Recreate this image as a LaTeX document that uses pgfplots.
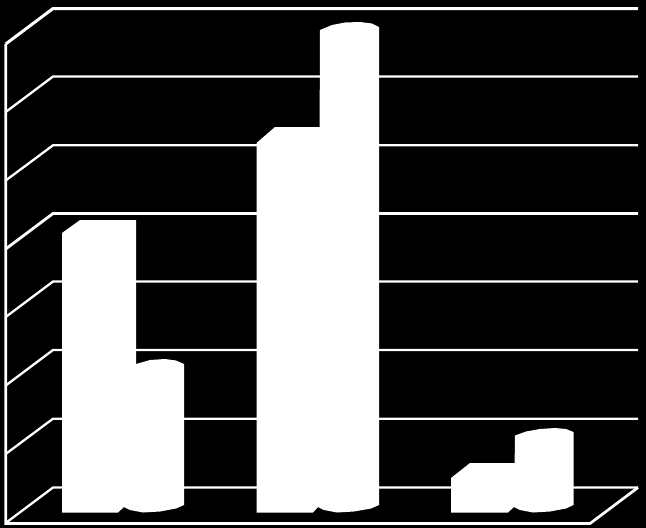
\documentclass[border=0pt]{standalone}
\usepackage{pgfplots}
\pgfplotsset{compat=1.18}
\pgfplotsset{
  wall/.style={white,line width=2.3pt,no markers,line join=miter},
  solid bar/.style={fill=white,draw=none,no markers},
}
\begin{document}
\begin{tikzpicture}
\begin{axis}[
  scale only axis,
  width=646pt,height=528pt,
  xmin=0,xmax=646,ymin=0,ymax=528,
  y dir=reverse,
  ticks=none,
  axis line style={draw=none},
  axis background/.style={fill=black},
]
% gridlines (back wall and side wall)
\addplot[wall,line width=3pt] coordinates {(5.7,44) (53,8.5) (638,8.5)};
\addplot[wall] coordinates {(5.7,112) (53,76.5) (638,76.5)};
\addplot[wall] coordinates {(5.7,180.5) (53,145.3) (638,145.3)};
\addplot[wall,line width=2.8pt] coordinates {(5.7,249) (53,213.5) (638,213.5)};
\addplot[wall] coordinates {(5.7,317) (53,281.5) (638,281.5)};
\addplot[wall] coordinates {(5.7,385.5) (53,350) (638,350)};
\addplot[wall] coordinates {(5.7,454) (53,418.7) (638,418.7)};
\addplot[wall] coordinates {(5.7,523) (53,487.5) (638,487.5)};
% left edge and floor front edge
\addplot[wall,line width=2.7pt] coordinates {(5.7,44) (5.7,523.5) (590,523.5) (638,487.5)};
% group 1
\addplot[solid bar] coordinates {(62,512.5) (62,233) (80,220) (136,220) (136,505) (124,507) (118,512.5)} --cycle;
\addplot[solid bar] coordinates {(124,507) (130,510) (143,512.5) (160,511.5) (176,508.5) (184,505) (184,364)
  (176,360.5) (165,359) (150,360) (136,364) (126,368)} --cycle;
% group 2
\addplot[solid bar] coordinates {(256.5,512.5) (256.5,143) (275,127) (330,127) (330,505) (318,507) (313,512.5)} --cycle;
\addplot[solid bar] coordinates {(318,507) (324,510) (337,512.5) (354,511.5) (371,508.5) (379,505) (379,27)
  (372,23.5) (360,22) (345,22.5) (332,25) (320,30)} --cycle;
% group 3
\addplot[solid bar] coordinates {(451,512.5) (451,478) (470,463) (525,463) (525,505) (514,507) (508,512.5)} --cycle;
\addplot[solid bar] coordinates {(514,507) (520,510) (533,512.5) (550,511.5) (566,508.5) (573.5,505) (573.5,432)
  (566,429) (555,428) (540,429) (526,431.5) (515,435.5)} --cycle;
\end{axis}
\end{tikzpicture}
\end{document}
